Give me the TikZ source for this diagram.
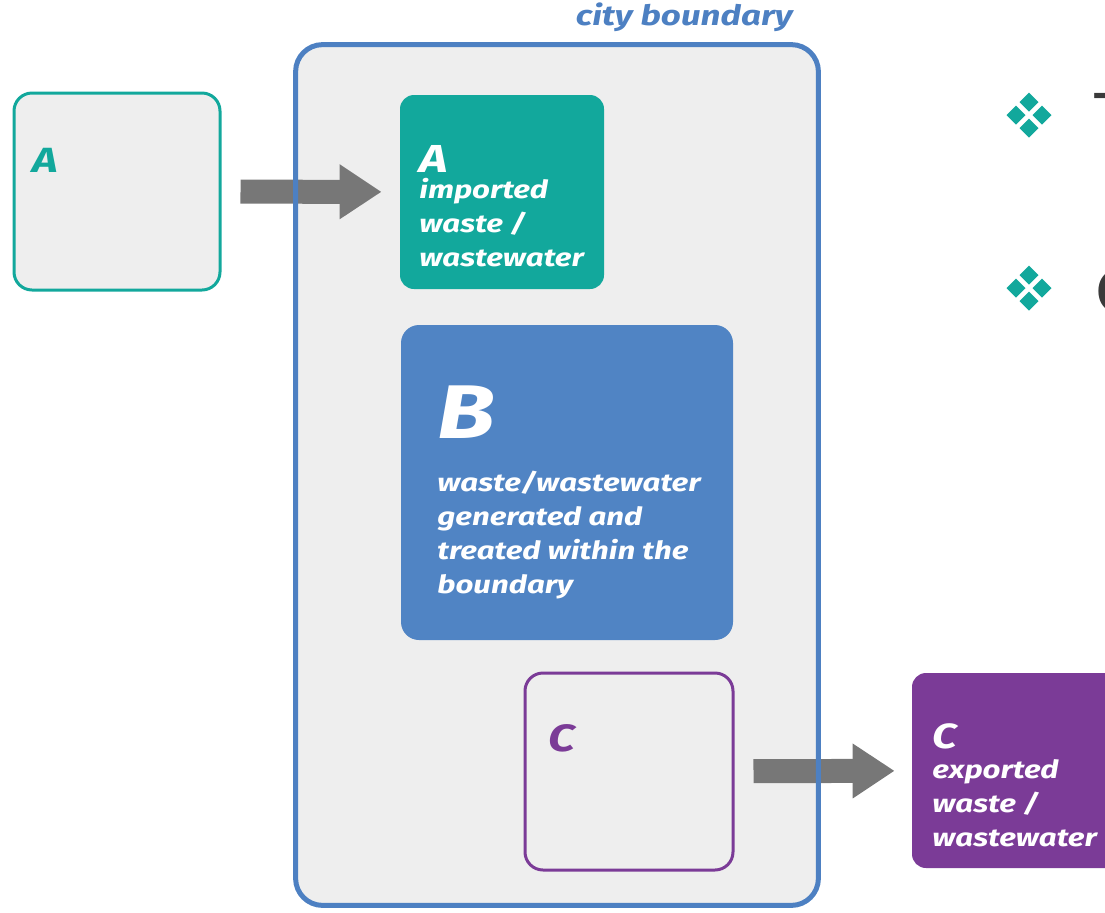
\documentclass[tikz,border=0pt]{standalone}
\usepackage{fontspec}
\setmainfont{Fira Sans}[FakeStretch=1.25]
\usetikzlibrary{arrows.meta}

\definecolor{tealA}{HTML}{12A89C}
\definecolor{cityblue}{HTML}{4D80C2}
\definecolor{blueB}{HTML}{5084C4}
\definecolor{purpleC}{HTML}{7B3B97}
\definecolor{arrowgray}{HTML}{777777}
\definecolor{boxgray}{HTML}{EEEEEE}
\definecolor{bulletgray}{HTML}{3A3A3A}

\begin{document}
\begin{tikzpicture}[x=0.5pt, y=-0.5pt]
    \useasboundingbox (0,0) rectangle (1105,912);

    % --- DEFINE STYLES ---
    % Style for the city boundary area
    \tikzstyle{cityarea} = [fill=boxgray, rounded corners=13.5pt, inner sep=0pt, minimum width=261pt, minimum height=430pt]
    % Style for outlined boxes
    \tikzstyle{framebox} = [draw, line width=1.5pt, fill=boxgray, rounded corners=9pt, inner sep=0pt]
    % Style for filled boxes
    \tikzstyle{solidbox} = [rounded corners=7pt, inner sep=0pt]
    % Style for the box letters
    \tikzstyle{boxletter} = [anchor=base west, inner sep=0pt, font=\bfseries\itshape\fontsize{17.5}{17.5}\selectfont]
    % Style for the white box texts
    \tikzstyle{boxlines} = [anchor=north west, inner sep=0pt, align=left, text=white, font=\bfseries\itshape\fontsize{12.5}{17}\selectfont]
    % Style for the thick flow arrows
    \tikzstyle{flow} = [draw=arrowgray, line width=12pt, -{Triangle[length=21pt,width=26pt]}]

    % --- CITY BOUNDARY ---
    \node[cityarea] (city) at (557,475) {};
    \node[anchor=base east, inner sep=0pt, text=cityblue, font=\bfseries\itshape\fontsize{14}{14}\selectfont] (citylabel) at (793,25) {city boundary};

    % --- BOXES ---
    % A: imported
    \node[framebox, draw=tealA, minimum width=103pt, minimum height=98.5pt] (Aout) at (117,191.5) {};
    \node[boxletter, text=tealA] (Aoutlbl) at (32,172) {A};
    \node[solidbox, fill=tealA, minimum width=102pt, minimum height=97pt] (Ain) at (502,192) {};
    \node[boxletter, text=white, font=\bfseries\itshape\fontsize{19.5}{19.5}\selectfont] (Ainlbl) at (419,172) {A};
    \node[boxlines] (Aintxt) at (419,178) {imported\\waste /\\wastewater};

    % B: within the boundary
    \node[solidbox, fill=blueB, rounded corners=9pt, minimum width=166pt, minimum height=157.5pt] (B) at (567,482.5) {};
    \node[boxletter, text=white, font=\bfseries\itshape\fontsize{38}{38}\selectfont] (Blbl) at (437,438) {B};
    \node[boxlines] (Btxt) at (437,471) {waste/wastewater\\generated and\\treated within the\\boundary};

    % C: exported
    \node[framebox, draw=purpleC, minimum width=104pt, minimum height=98.5pt] (Cin) at (629,771.5) {};
    \node[boxletter, text=purpleC, font=\bfseries\itshape\fontsize{19}{19}\selectfont] (Cinlbl) at (548,751) {C};
    \node[solidbox, fill=purpleC, minimum width=111.5pt, minimum height=97.5pt] (Cout) at (1023.5,770.5) {};
    \node[boxletter, text=white] (Coutlbl) at (932,748) {C};
    \node[boxlines] (Couttxt) at (932,759) {exported\\waste /\\wastewater};

    % --- FLOWS ---
    \draw[flow, shorten <=9.5pt, shorten >=9pt] (Aout) -- (Ain);
    \draw[flow, shorten <=9.5pt, shorten >=8.5pt] (Cin) -- (Cout);

    % boundary line on top of the flows
    \draw[cityblue, line width=2.5pt, rounded corners=13.5pt] (city.north west) rectangle (city.south east);

    % --- BULLETS (cut off at the right) ---
    \foreach \cy in {115,288} {
        \foreach \dx/\dy in {0/-13, -13/0, 13/0, 0/13} {
            \fill[tealA] ({1029+\dx},{\cy+\dy}) +(0,-9.5) -- +(9.5,0) -- +(0,9.5) -- +(-9.5,0) -- cycle;
        }
    }
    \node[anchor=north west, inner sep=0pt, text=bulletgray, font=\fontsize{32}{32}\selectfont] (bulletT) at (1093,93) {T};
    \node[anchor=north west, inner sep=0pt, text=bulletgray, font=\fontsize{32}{32}\selectfont] (bulletC) at (1094,268) {C};
\end{tikzpicture}
\end{document}
